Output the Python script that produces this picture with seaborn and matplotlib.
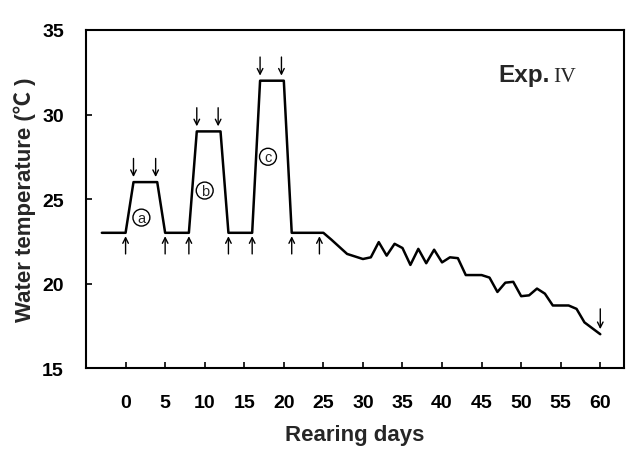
import matplotlib
matplotlib.use("Agg")
import matplotlib.pyplot as plt
import seaborn as sns
import pandas as pd

# ---- data ----
days = [-3, 0, 1, 4, 5, 8, 9, 12, 13, 16, 17, 20, 21, 25, 26, 28, 30, 31, 32, 33, 34, 35,
        36, 37, 38, 39, 40, 41, 42, 43, 45, 46, 47, 48, 49, 50, 51, 52, 53, 54, 56, 57, 58, 60]
temps = [23, 23, 26, 26, 23, 23, 29, 29, 23, 23, 32, 32, 23, 23, 22.6, 21.75, 21.45, 21.55,
         22.45, 21.65, 22.35, 22.1, 21.1, 22.05, 21.2, 22.0, 21.25, 21.55, 21.5, 20.5, 20.5,
         20.35, 19.5, 20.05, 20.1, 19.25, 19.3, 19.7, 19.4, 18.7, 18.7, 18.5, 17.7, 17.0]
up_arrow_days = [0, 5, 8, 13, 16, 21, 24.5]
down_arrow_days = [1, 3.8, 9, 11.7, 17, 19.7]
down_arrow_heads = [26.3, 26.3, 29.3, 29.3, 32.3, 32.3]
end_arrow_day = [60]
circle_labels = ["a", "b", "c"]
circle_days = [2.0, 10.0, 18.0]
circle_temps = [23.9, 25.5, 27.5]
xticks = list(range(0, 61, 5))
yticks = [15, 20, 25, 30, 35]

df = pd.DataFrame({"day": days, "temp": temps})

sns.set_style("ticks")
plt.rcParams["font.family"] = ["Liberation Sans", "DejaVu Sans"]

fig = plt.figure(figsize=(6.33, 4.64), dpi=100)
ax = fig.add_axes([0.1359, 0.2047, 0.8499, 0.7285])

sns.lineplot(data=df, x="day", y="temp", ax=ax, color="black", linewidth=1.8,
             sort=False, estimator=None)

arrow_kw = dict(arrowstyle="->,head_length=0.4,head_width=0.2", color="black", lw=1.0,
                shrinkA=0, shrinkB=0)
for d in up_arrow_days:
    ax.annotate("", xy=(d, 22.8), xytext=(d, 21.75), arrowprops=arrow_kw)
for d, h in zip(down_arrow_days, down_arrow_heads):
    ax.annotate("", xy=(d, h), xytext=(d, h + 1.1), arrowprops=arrow_kw)
for d in end_arrow_day:
    ax.annotate("", xy=(d, 17.3), xytext=(d, 18.5), arrowprops=arrow_kw)

for lab, d, t in zip(circle_labels, circle_days, circle_temps):
    ax.text(d, t, lab, ha="center", va="center", fontsize=10.5,
            bbox=dict(boxstyle="circle,pad=0.1", fc="white", ec="black", lw=1.0))

ax.text(47.1, 32.0, "Exp.", fontsize=17.5, fontweight="bold", ha="left", va="baseline")
ax.text(54.0, 32.0, "IV", fontsize=15.5, family=["Liberation Serif", "DejaVu Serif"],
        ha="left", va="baseline")

ax.set_xlim(-5, 63)
ax.set_ylim(15, 35)
ax.set_xticks(xticks)
ax.set_yticks(yticks)
for s in ax.spines.values():
    s.set_visible(True)
    s.set_linewidth(1.5)
    s.set_color("black")
ax.tick_params(direction="in", length=4.5, width=1.2, colors="black")
ax.tick_params(axis="y", pad=16)
ax.tick_params(axis="x", pad=19)
for lbl in ax.get_xticklabels() + ax.get_yticklabels():
    lbl.set_fontweight("bold")
    lbl.set_fontsize(14)
ax.set_xlabel("Rearing days", fontsize=16, fontweight="bold", labelpad=9)
ax.set_ylabel("Water temperature (℃ )", fontsize=16, fontweight="bold", labelpad=4)
ax.yaxis.label.set_family(["Liberation Sans", "Noto Sans CJK SC"])

fig.savefig("out.png", dpi=100)
